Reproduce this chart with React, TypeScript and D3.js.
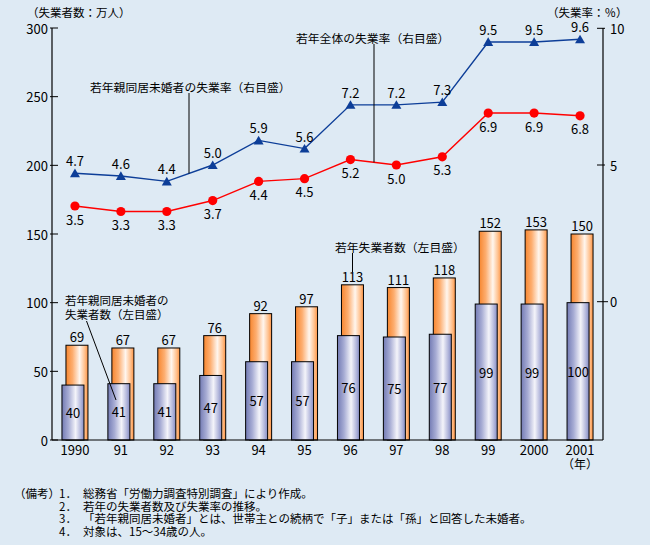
import React from 'react';
import * as d3 from 'd3';

const years = ['1990', '91', '92', '93', '94', '95', '96', '97', '98', '99', '2000', '2001'];
const youthUnemployed = [69, 67, 67, 76, 92, 97, 113, 111, 118, 152, 153, 150];
const livingWithParentsUnemployed = [40, 41, 41, 47, 57, 57, 76, 75, 77, 99, 99, 100];
const youthRate = [4.7, 4.6, 4.4, 5.0, 5.9, 5.6, 7.2, 7.2, 7.3, 9.5, 9.5, 9.6];
const livingWithParentsRate = [3.5, 3.3, 3.3, 3.7, 4.4, 4.5, 5.2, 5.0, 5.3, 6.9, 6.9, 6.8];
const leftTicks = [0, 50, 100, 150, 200, 250, 300];
const rightTicks = [0, 5, 10];
const notes = [
  '総務省「労働力調査特別調査」により作成。',
  '若年の失業者数及び失業率の推移。',
  '「若年親同居未婚者」とは、世帯主との続柄で「子」または「孫」と回答した未婚者。',
  '対象は、15～34歳の人。',
];

const W = 650;
const H = 545;
const FONT = '"Noto Sans CJK JP", "Noto Sans", sans-serif';

export default function App() {
  const x = d3.scaleBand<string>().domain(years).range([52, 603]).padding(0);
  const yL = d3.scaleLinear().domain([0, 300]).range([440, 28]);
  const yR = d3.scaleLinear().domain([0, 10]).range([301.7, 28.3]);
  const cx = (i: number) => (x(years[i]) as number) + x.bandwidth() / 2;
  const fmt = d3.format('.1f');

  const line = d3
    .line<number>()
    .x((_, i) => cx(i))
    .y((d) => yR(d));

  const interpOn = (arr: number[], px: number) => {
    for (let i = 0; i < arr.length - 1; i++) {
      const a = cx(i), b = cx(i + 1);
      if (px >= a && px <= b) {
        const t = (px - a) / (b - a);
        return yR(arr[i] + (arr[i + 1] - arr[i]) * t);
      }
    }
    return yR(arr[0]);
  };
  const lead1x = 189;
  const lead1y = interpOn(youthRate, lead1x);
  const lead2x = 374;
  const lead2y = interpOn(livingWithParentsRate, lead2x);

  const tri = (px: number, py: number) => {
    const s = 4.6;
    return `M${px},${py - s}L${px + s + 0.4},${py + s - 0.6}L${px - s - 0.4},${py + s - 0.6}Z`;
  };

  return (
    <svg width={W} height={H} style={{ position: 'absolute', left: 0, top: 0 }} fontFamily={FONT}>
      <defs>
        <linearGradient id="gOrange" x1="0" x2="1" y1="0" y2="0">
          <stop offset="0%" stopColor="#f7862f" />
          <stop offset="30%" stopColor="#fdae70" />
          <stop offset="62%" stopColor="#fff6ee" />
          <stop offset="85%" stopColor="#ffc18e" />
          <stop offset="100%" stopColor="#ff9444" />
        </linearGradient>
        <linearGradient id="gBlue" x1="0" x2="1" y1="0" y2="0">
          <stop offset="0%" stopColor="#737bb4" />
          <stop offset="30%" stopColor="#a7acd4" />
          <stop offset="62%" stopColor="#f4f4fa" />
          <stop offset="85%" stopColor="#b4b8dc" />
          <stop offset="100%" stopColor="#858cc4" />
        </linearGradient>
      </defs>
      <rect x={0} y={0} width={W} height={H} fill="#deeaf4" />

      {/* axis titles */}
      <text x={27} y={12} fontSize={11.5} dominantBaseline="central" fill="#000">（失業者数：万人）</text>
      <text x={547} y={12} fontSize={11.5} dominantBaseline="central" fill="#000">（失業率：％）</text>

      {/* bars */}
      {years.map((yr, i) => {
        const c = cx(i);
        const top = yL(youthUnemployed[i]);
        return (
          <g key={'o' + yr}>
            <rect x={c - 9} y={top} width={22} height={yL(0) - top} fill="url(#gOrange)" stroke="#000" strokeWidth={1} />
            <text x={c + 2} y={top - 3} fontSize={13} textAnchor="middle" fill="#000">{youthUnemployed[i]}</text>
          </g>
        );
      })}
      {years.map((yr, i) => {
        const c = cx(i);
        const top = yL(livingWithParentsUnemployed[i]);
        return (
          <g key={'b' + yr}>
            <rect x={c - 13} y={top} width={22} height={yL(0) - top} fill="url(#gBlue)" stroke="#000" strokeWidth={1} />
            <text x={c - 2} y={(top + yL(0)) / 2} fontSize={13} textAnchor="middle" dominantBaseline="central" fill="#000">
              {livingWithParentsUnemployed[i]}
            </text>
          </g>
        );
      })}

      {/* axes */}
      <line x1={52} x2={52} y1={28} y2={440} stroke="#000" strokeWidth={1.2} />
      <line x1={603} x2={603} y1={28} y2={440} stroke="#000" strokeWidth={1.2} />
      <line x1={52} x2={603} y1={440} y2={440} stroke="#000" strokeWidth={1.2} />
      {leftTicks.map((t) => (
        <g key={'lt' + t}>
          <line x1={50} x2={58} y1={yL(t)} y2={yL(t)} stroke="#000" strokeWidth={1} />
          <text x={48} y={yL(t)} fontSize={13} textAnchor="end" dominantBaseline="central">{t}</text>
        </g>
      ))}
      {rightTicks.map((t) => (
        <g key={'rt' + t}>
          <line x1={597} x2={t === 0 ? 608 : 605} y1={yR(t)} y2={yR(t)} stroke="#000" strokeWidth={1} />
          <text x={610} y={yR(t)} fontSize={13} textAnchor="start" dominantBaseline="central">{t}</text>
        </g>
      ))}
      {years.map((yr, i) => (
        <text key={'xl' + yr} x={cx(i)} y={449.5} fontSize={13} textAnchor="middle" dominantBaseline="central">{yr}</text>
      ))}
      <text x={cx(years.length - 1)} y={463.5} fontSize={12} textAnchor="middle" dominantBaseline="central">（年）</text>

      {/* lines */}
      <path d={line(youthRate) || ''} fill="none" stroke="#0d3e98" strokeWidth={1.4} />
      <path d={line(livingWithParentsRate) || ''} fill="none" stroke="#ff0000" strokeWidth={1.4} />
      {youthRate.map((v, i) => (
        <g key={'yr' + i}>
          <path d={tri(cx(i), yR(v))} fill="#0d3e98" />
          <text x={cx(i)} y={yR(v) - 12.5} fontSize={13} textAnchor="middle" dominantBaseline="central">{fmt(v)}</text>
        </g>
      ))}
      {livingWithParentsRate.map((v, i) => (
        <g key={'pr' + i}>
          <circle cx={cx(i)} cy={yR(v)} r={4.6} fill="#ff0000" />
          <text x={cx(i)} y={yR(v) + 13} fontSize={13} textAnchor="middle" dominantBaseline="central">{fmt(v)}</text>
        </g>
      ))}

      {/* annotations */}
      <text x={90} y={86} fontSize={11.8} dominantBaseline="central">若年親同居未婚者の失業率（右目盛）</text>
      <line x1={lead1x} x2={lead1x} y1={93} y2={lead1y} stroke="#000" strokeWidth={1} />
      <text x={296} y={37} fontSize={11.8} dominantBaseline="central">若年全体の失業率（右目盛）</text>
      <line x1={lead2x} x2={lead2x} y1={44} y2={lead2y} stroke="#000" strokeWidth={1} />
      <text x={335} y={246} fontSize={11.8} dominantBaseline="central">若年失業者数（左目盛）</text>
      <line x1={352.5} x2={352.5} y1={253} y2={272} stroke="#000" strokeWidth={1} />
      <text fontSize={11.5}>
        <tspan x={65} y={305}>若年親同居未婚者の</tspan>
        <tspan x={65} y={318.5}>失業者数（左目盛）</tspan>
      </text>
      <line x1={86.5} x2={116} y1={321} y2={400} stroke="#000" strokeWidth={1} />

      {/* notes */}
      <text fontSize={11.5}>
        <tspan x={14} y={498}>（備考）</tspan>
        {notes.map((n, i) => (
          <React.Fragment key={'n' + i}>
            <tspan x={59} y={498 + i * 12.5}>{`${i + 1}．`}</tspan>
            <tspan x={83} y={498 + i * 12.5}>{n}</tspan>
          </React.Fragment>
        ))}
      </text>
    </svg>
  );
}
